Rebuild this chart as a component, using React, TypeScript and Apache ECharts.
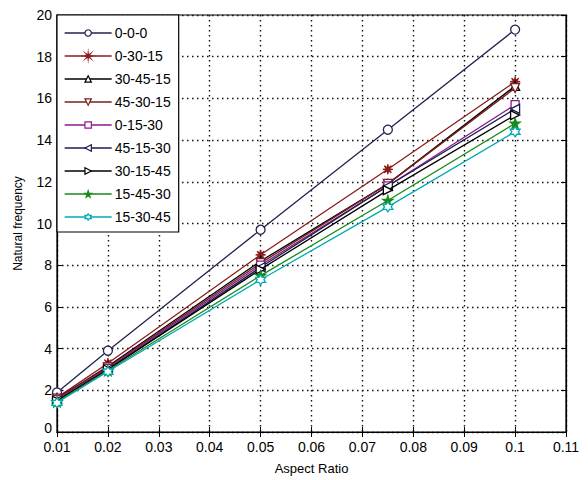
import React, { useEffect, useRef } from "react";
import * as echarts from "echarts";

const aspectRatios = [0.01, 0.02, 0.05, 0.075, 0.1];
const xTickMin = 0.01;
const xTickMax = 0.11;
const xTickStep = 0.01;
const yTickMin = 0;
const yTickMax = 20;
const yTickStep = 2;

const s000 = [1.9, 3.9, 9.7, 14.5, 19.3];
const s03015 = [1.65, 3.3, 8.5, 12.6, 16.8];
const s304515 = [1.6, 3.15, 8.2, 11.9, 16.6];
const s453015 = [1.6, 3.1, 8.1, 11.9, 16.5];
const s01530 = [1.55, 3.05, 8.0, 11.8, 15.7];
const s451530 = [1.5, 3.0, 7.9, 11.8, 15.5];
const s301545 = [1.5, 3.0, 7.8, 11.6, 15.2];
const s154530 = [1.45, 2.95, 7.5, 11.1, 14.8];
const s153045 = [1.4, 2.9, 7.3, 10.8, 14.4];

const seriesNames = [
  "0-0-0",
  "0-30-15",
  "30-45-15",
  "45-30-15",
  "0-15-30",
  "45-15-30",
  "30-15-45",
  "15-45-30",
  "15-30-45",
];
const seriesValues = [s000, s03015, s304515, s453015, s01530, s451530, s301545, s154530, s153045];

const TRI_UP = "path://M0,-1L1,1L-1,1Z";
const TRI_DOWN = "path://M0,1L1,-1L-1,-1Z";
const TRI_LEFT = "path://M-1,0L1,-1L1,1Z";
const TRI_RIGHT = "path://M1,0L-1,-1L-1,1Z";
const ASTERISK =
  "path://M0,-1L0.0957,-0.231L0.707,-0.707L0.231,-0.0957L1,0L0.231,0.0957L0.707,0.707L0.0957,0.231L0,1L-0.0957,0.231L-0.707,0.707L-0.231,0.0957L-1,0L-0.231,-0.0957L-0.707,-0.707L-0.0957,-0.231Z";
const PENTAGRAM =
  "path://M0,-1L0.223,-0.307L0.951,-0.309L0.361,0.117L0.588,0.809L0,0.38L-0.588,0.809L-0.361,0.117L-0.951,-0.309L-0.223,-0.307Z";
const HEXAGRAM =
  "path://M0,-1L0.289,-0.5L0.866,-0.5L0.577,0L0.866,0.5L0.289,0.5L0,1L-0.289,0.5L-0.866,0.5L-0.577,0L-0.866,-0.5L-0.289,-0.5Z";

const styles = [
  { color: "#22224e", symbol: "circle", fill: "#ffffff", size: 9 },
  { color: "#8a1c1c", symbol: ASTERISK, fill: "#8a1c1c", size: 10 },
  { color: "#000000", symbol: TRI_UP, fill: "#ffffff", size: 9 },
  { color: "#7a1e1e", symbol: TRI_DOWN, fill: "#ffffff", size: 9 },
  { color: "#8a1a8a", symbol: "rect", fill: "#ffffff", size: 8 },
  { color: "#1c1c50", symbol: TRI_LEFT, fill: "#ffffff", size: 9 },
  { color: "#000000", symbol: TRI_RIGHT, fill: "#ffffff", size: 9 },
  { color: "#1a8a1a", symbol: PENTAGRAM, fill: "#1a8a1a", size: 10 },
  { color: "#00aab2", symbol: HEXAGRAM, fill: "#ffffff", size: 10 },
];

const FONT = "Liberation Sans";

export default function App() {
  const ref = useRef<HTMLDivElement>(null);
  useEffect(() => {
    if (!ref.current) return;
    const chart = echarts.init(ref.current, undefined, { renderer: "svg" });
    const fmt = (v: number) => String(Number(v.toFixed(2)));
    const splitLine = { show: true, lineStyle: { color: "#111", type: [1.5, 3.5] as any, width: 1.4 } };
    const option: any = {
      animation: false,
      backgroundColor: "#ffffff",
      grid: {
        left: 57,
        right: 22,
        top: 15,
        bottom: 45,
        show: true,
        borderColor: "#000",
        borderWidth: 1.2,
        backgroundColor: "transparent",
      },
      legend: {
        orient: "vertical",
        left: 57,
        top: 15,
        data: seriesNames,
        itemWidth: 47,
        itemHeight: 8,
        itemGap: 9,
        padding: [11, 8, 8, 7],
        borderColor: "#000",
        borderWidth: 1.2,
        backgroundColor: "#ffffff",
        lineStyle: { width: 1.3 },
        itemStyle: { borderWidth: 1.2 },
        textStyle: { fontFamily: FONT, fontSize: 14, color: "#000", lineHeight: 14, padding: [0, 0, 0, -2] },
      },
      xAxis: [
        {
          type: "value",
          min: xTickMin,
          max: xTickMax,
          interval: xTickStep,
          position: "bottom",
          axisLine: { show: true, lineStyle: { color: "#000", width: 1.2 } },
          axisTick: { show: true, inside: true, length: 5, lineStyle: { color: "#000" } },
          axisLabel: { color: "#000", fontFamily: FONT, fontSize: 14, margin: 8, formatter: fmt },
          splitLine,
          name: "Aspect Ratio",
          nameLocation: "middle",
          nameGap: 30,
          nameTextStyle: { color: "#000", fontFamily: FONT, fontSize: 13 },
        },
        {
          type: "value",
          min: xTickMin,
          max: xTickMax,
          interval: xTickStep,
          position: "top",
          axisLine: { show: true, lineStyle: { color: "#000", width: 1.2 } },
          axisTick: { show: true, inside: true, length: 5, lineStyle: { color: "#000" } },
          axisLabel: { show: false },
          splitLine: { show: false },
        },
      ],
      yAxis: [
        {
          type: "value",
          min: yTickMin,
          max: yTickMax,
          interval: yTickStep,
          position: "left",
          axisLine: { show: true, lineStyle: { color: "#000", width: 1.2 } },
          axisTick: { show: true, inside: true, length: 5, lineStyle: { color: "#000" } },
          axisLabel: {
            color: "#000",
            fontFamily: FONT,
            fontSize: 14,
            margin: 5,
            formatter: (v: number) => (v === 0 ? "{z|0}" : String(v)),
            rich: { z: { fontFamily: FONT, fontSize: 14, color: "#000", padding: [0, 0, 8, 0] } },
          },
          splitLine,
          name: "Natural frequency",
          nameLocation: "middle",
          nameGap: 33,
          nameTextStyle: { color: "#000", fontFamily: FONT, fontSize: 12 },
        },
        {
          type: "value",
          min: yTickMin,
          max: yTickMax,
          interval: yTickStep,
          position: "right",
          axisLine: { show: true, lineStyle: { color: "#000", width: 1.2 } },
          axisTick: { show: true, inside: true, length: 5, lineStyle: { color: "#000" } },
          axisLabel: { show: false },
          splitLine: { show: false },
        },
      ],
      series: seriesNames.map((name, i) => ({
        name,
        type: "line",
        xAxisIndex: 0,
        yAxisIndex: 0,
        data: aspectRatios.map((x, j) => [x, seriesValues[i][j]]),
        symbol: styles[i].symbol,
        symbolSize: styles[i].size,
        showAllSymbol: true,
        color: styles[i].color,
        lineStyle: { color: styles[i].color, width: 1.3 },
        itemStyle: { color: styles[i].fill, borderColor: styles[i].color, borderWidth: 1.3 },
        emphasis: { disabled: true },
        z: 2 + i,
      })),
    };
    chart.setOption(option);
    return () => chart.dispose();
  }, []);
  return (
    <div
      ref={ref}
      style={{ position: "absolute", left: 0, top: 0, width: 588, height: 480, background: "#fff" }}
    />
  );
}
